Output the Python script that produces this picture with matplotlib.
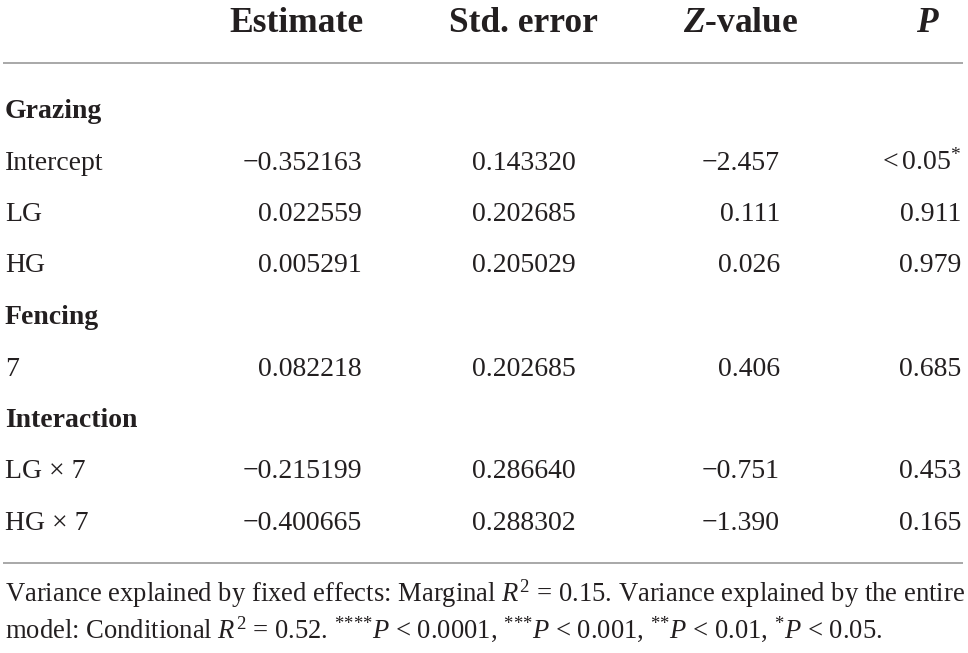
import matplotlib
matplotlib.use("Agg")
from matplotlib import pyplot as plt

plt.rcParams["font.family"] = ["Liberation Serif", "DejaVu Serif"]
plt.rcParams["mathtext.fontset"] = "custom"
plt.rcParams["mathtext.rm"] = "Liberation Serif"
plt.rcParams["mathtext.it"] = "Liberation Serif:italic"
plt.rcParams["mathtext.bf"] = "Liberation Serif:bold"
plt.rcParams["mathtext.sf"] = "Liberation Serif:bold:italic"

# table content
columns = ["Estimate", "Std. error", r"$\mathsf{Z}$-value", r"$\mathsf{P}$"]
sections = ["Grazing", "Fencing", "Interaction"]
section_terms = [["Intercept", "LG", "HG"], ["7"], ["LG × 7", "HG × 7"]]
estimate = [-0.352163, 0.022559, 0.005291, 0.082218, -0.215199, -0.400665]
std_error = [0.143320, 0.202685, 0.205029, 0.202685, 0.286640, 0.288302]
z_value = [-2.457, 0.111, 0.026, 0.406, -0.751, -1.390]
p_text = ["$<$0.05$^{{*}}$", "0.911", "0.979", "0.685", "0.453", "0.165"]
footnote = [
    r"Variance explained by fixed effects: Marginal $R^2$ = 0.15. Variance explained by the entire",
    r"model: Conditional $R^2$ = 0.52. $^{{*}{*}{*}{*}}P$ < 0.0001, $^{{*}{*}{*}}P$ < 0.001, "
    r"$^{{*}{*}}P$ < 0.01, $^{{*}}P$ < 0.05.",
]

W, H = 968, 653
fig = plt.figure(figsize=(W / 100, H / 100), dpi=100)
ax = fig.add_axes([0, 0, 1, 1])
ax.set_xlim(0, W)
ax.set_ylim(H, 0)
ax.axis("off")

fs = 20
ink = "#231f20"
col_centers = [296, 523, 741, 928]
col_rights = [362, 576, 780, 961]


def num(v, fmt):
    return format(v, fmt).replace("-", "\u2212")


# header
for i, c in enumerate(columns):
    ax.text(col_centers[i], 32, c, ha="center", va="baseline", fontsize=25.5,
            fontweight="bold", color=ink)

ax.plot([3, 963], [63, 63], color="#9a9a9a", lw=1.2, solid_capstyle="butt")
ax.plot([3, 963], [563, 563], color="#9a9a9a", lw=1.2, solid_capstyle="butt")

row = 0
k = 0
for s, terms in zip(sections, section_terms):
    y = 118 + 51.5 * row
    ax.text(5, y, s, ha="left", va="baseline", fontsize=fs, fontweight="bold", color=ink)
    row += 1
    for t in terms:
        y = 118 + 51.5 * row
        ax.text(5, y, t, ha="left", va="baseline", fontsize=fs, color=ink)
        ax.text(col_rights[0], y, num(estimate[k], ".6f"), ha="right", va="baseline",
                fontsize=fs, color=ink)
        ax.text(col_rights[1], y, num(std_error[k], ".6f"), ha="right", va="baseline",
                fontsize=fs, color=ink)
        ax.text(col_rights[2], y, num(z_value[k], ".3f"), ha="right", va="baseline",
                fontsize=fs, color=ink)
        ax.text(col_rights[3], y, p_text[k], ha="right", va="baseline",
                fontsize=fs, color=ink)
        row += 1
        k += 1

for j, line in enumerate(footnote):
    ax.text(5, 602 + 36 * j, line, ha="left", va="baseline", fontsize=19.2, color=ink)

fig.savefig("out.png", dpi=100)
